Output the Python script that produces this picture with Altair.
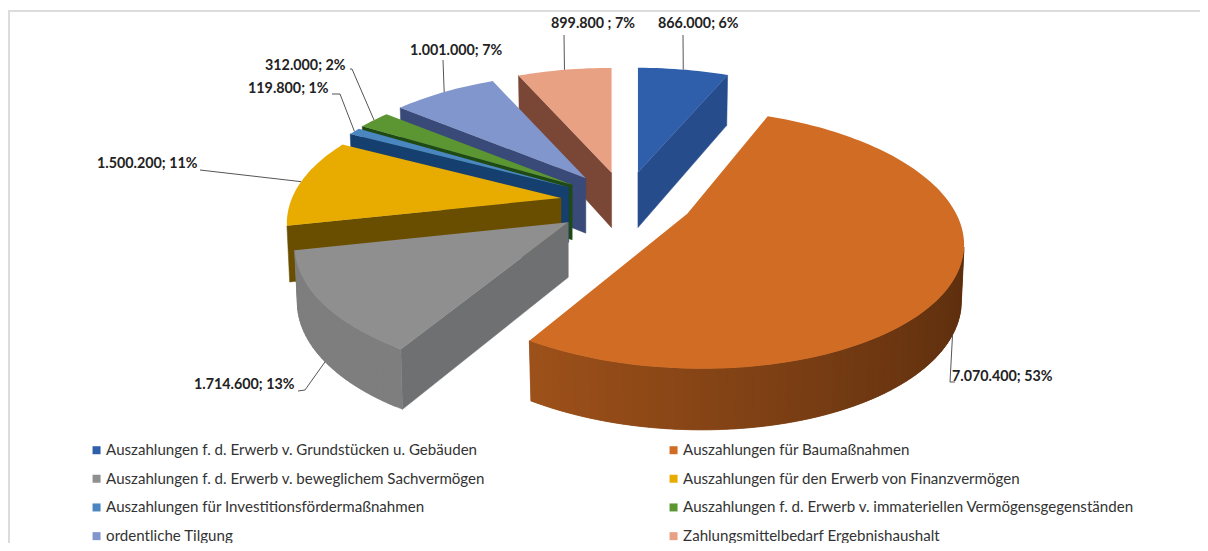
import math
import altair as alt

NAMES = ["Auszahlungen f. d. Erwerb v. Grundstücken u. Gebäuden",
         "Auszahlungen für Baumaßnahmen",
         "Auszahlungen f. d. Erwerb v. beweglichem Sachvermögen",
         "Auszahlungen für den Erwerb von Finanzvermögen",
         "Auszahlungen für Investitionsfördermaßnahmen",
         "Auszahlungen f. d. Erwerb v. immateriellen Vermögensgegenständen",
         "ordentliche Tilgung",
         "Zahlungsmittelbedarf Ergebnishaushalt"]
VALUES = [866000, 7070400, 1714600, 1500200, 119800, 312000, 1001000, 899800]
LABELS = ["866.000; 6%", "7.070.400; 53%", "1.714.600; 13%", "1.500.200; 11%",
          "119.800; 1%", "312.000; 2%", "1.001.000; 7%", "899.800  ; 7%"]
TOP = ["#2F5FAB", "#D06C24", "#8F8F8F", "#E8AB00", "#4A86C0", "#5B9632", "#8096CC", "#E9A184"]
WALL = ["#264C8C", "#8A4717", "#6E7072", "#6A4E00", "#143F6E", "#1F4A14", "#3A4A78", "#7A4636"]
RIM_LEFT = ["#264C8C", "#B25C1E", "#7E7E7E", "#6A4E00", "#143F6E", "#1F4A14", "#3A4A78", "#7A4636"]
RIM_RIGHT = ["#264C8C", "#5C2E0E", "#7E7E7E", "#6A4E00", "#143F6E", "#1F4A14", "#3A4A78", "#7A4636"]
LEGEND_ORDER = [0, 2, 4, 6, 1, 3, 5, 7]

# layout (screen px of the 1208x551 picture)
DRAW_ORDER = [0, 7, 6, 5, 4, 3, 2, 1]
CX, CY, EXPLODE = 625, 202, 0.24
RX, RY, PERSP, DEPTH, DEPTH_P = 269, 125, 0.193, 55, 0.1
SHIFT = {1: (5, -2), 2: (-4, 3)}
SKEW = {1: 0.095, 2: 0.02}
LABEL_XY = [(658, 24), (952, 377), (194, 385), (97, 164), (248, 89), (265, 66), (410, 51), (551, 24)]
LEADER_END = [[(683, 35)], [(950, 382), (955, 382)], [(305, 390), (298, 391)], [(200, 170)],
              [(340, 94), (332, 94)], [(352, 69), (350, 69)], [(443, 60)], [(564, 35)]]
OFF = 8


def proj(th):
    X, Y = math.sin(th), math.cos(th)
    w = 1 + PERSP * Y
    return RX * X / w, -RY * Y / w


def depth(th):
    return DEPTH / (1 + DEPTH_P * math.cos(th))


def P(x, y):
    return [x - OFF, y - OFF]


def lerp_color(a, b, t):
    ca = [int(a[i:i + 2], 16) for i in (1, 3, 5)]
    cb = [int(b[i:i + 2], 16) for i in (1, 3, 5)]
    return "#%02x%02x%02x" % tuple(round(u + (v - u) * t) for u, v in zip(ca, cb))


def area(poly):
    return sum(poly[i][0] * poly[(i + 1) % len(poly)][1] - poly[(i + 1) % len(poly)][0] * poly[i][1]
               for i in range(len(poly)))


def poly_feature(pts, **props):
    ring = [P(*p) for p in pts]
    ring.append(ring[0])
    return {"type": "Feature", "properties": props, "geometry": {"type": "Polygon", "coordinates": [ring]}}


def line_feature(pts, **props):
    return {"type": "Feature", "properties": props,
            "geometry": {"type": "LineString", "coordinates": [P(*p) for p in pts]}}


total = sum(VALUES)
bounds = []
acc = 0
for v in VALUES:
    bounds.append((acc / total * 2 * math.pi, (acc + v) / total * 2 * math.pi))
    acc += v

walls, tops, leaders, texts = [], [], [], []
for i in DRAW_ORDER:
    a0, a1 = bounds[i]
    mid = (a0 + a1) / 2
    sx, sy = SHIFT.get(i, (0, 0))
    skew = SKEW.get(i, 0)
    ax = CX + EXPLODE * RX * math.sin(mid) + sx
    ay = CY - EXPLODE * RY * math.cos(mid) + sy
    dap = DEPTH

    def top_pt(th):
        dx, dy = proj(th)
        return ax + dx + skew * dy, ay + dy

    def low_pt(th):
        dx, dy = proj(th)
        return ax + (dx + skew * dy) * 0.99, ay + dy + depth(th)

    n = max(2, int((a1 - a0) / math.radians(1.5)))
    ths = [a0 + (a1 - a0) * k / n for k in range(n + 1)]
    # radial walls, back-face culled
    start = [(ax, ay), top_pt(a0), low_pt(a0), (ax, ay + dap)]
    end = [(ax, ay), top_pt(a1), low_pt(a1), (ax, ay + dap)]
    if area(start) < 0:
        walls.append(poly_feature(start, c=WALL[i]))
    if area(end) > 0:
        walls.append(poly_feature(end, c=WALL[i]))
    for k in range(n):
        q = [top_pt(ths[k]), top_pt(ths[k + 1]), low_pt(ths[k + 1]), low_pt(ths[k])]
        if area(q) < 0:
            t = (math.sin(ths[k]) + 1) / 2
            nxt = ths[min(k + 2, n)]
            wide = [top_pt(ths[k]), top_pt(nxt), low_pt(nxt), low_pt(ths[k])]
            walls.append(poly_feature(wide, c=lerp_color(RIM_LEFT[i], RIM_RIGHT[i], t)))
    tops.append(poly_feature([(ax, ay)] + [top_pt(t) for t in ths], name=NAMES[i]))

    anchor = low_pt(mid) if math.cos(mid) < -0.3 else top_pt(mid)
    leaders.append(line_feature([anchor] + LEADER_END[i], c="#555555"))
    lx, ly = LABEL_XY[i]
    px, py = P(lx, ly)
    texts.append({"x": px, "y": py, "t": LABELS[i]})

W, H = 1192, 535
frame = [line_feature([(9, 551), (9, 11), (1208, 11)], c="#dcdcdc")]
PROJ = dict(type="identity", scale=1, translate=[0, 0])


def shape_layer(feats, **mark):
    return (alt.Chart(alt.Data(values=feats)).mark_geoshape(**mark)
            .encode(color=alt.Color("properties.c:N", scale=None),
                    stroke=alt.Stroke("properties.c:N", scale=None))
            .project(**PROJ))


def line_layer(feats, width):
    return (alt.Chart(alt.Data(values=feats)).mark_geoshape(filled=False, strokeWidth=width)
            .encode(stroke=alt.Stroke("properties.c:N", scale=None))
            .project(**PROJ))


top_layer = (alt.Chart(alt.Data(values=tops)).mark_geoshape(strokeWidth=0.4)
             .encode(color=alt.Color("properties.name:N",
                                     scale=alt.Scale(domain=[NAMES[i] for i in LEGEND_ORDER],
                                                     range=[TOP[i] for i in LEGEND_ORDER]),
                                     legend=alt.Legend(orient="none", legendX=81, legendY=434.5, columns=2,
                                                       title=None, symbolType="square", symbolSize=64,
                                                       symbolStrokeWidth=0, labelFont="Lato", labelFontSize=15.1,
                                                       labelColor="#333333", labelLimit=560, rowPadding=12.7,
                                                       columnPadding=181, labelOffset=2, gridAlign="each")))
             .project(**PROJ))

text_layer = (alt.Chart(alt.Data(values=texts))
              .mark_text(font="Lato", fontWeight="bold", fontSize=14.3, align="left", baseline="middle", color="#222222")
              .encode(longitude="x:Q", latitude="y:Q", text="t:N")
              .project(**PROJ))

chart = (alt.layer(line_layer(frame, 2), shape_layer(walls, strokeWidth=0.5),
                   top_layer, line_layer(leaders, 1), text_layer)
         .properties(width=W, height=H, padding=0, autosize=alt.AutoSizeParams(type="none"), background="#ffffff")
         .configure_view(stroke=None))

chart.save("out.html", embed_options={"renderer": "svg", "actions": False})
